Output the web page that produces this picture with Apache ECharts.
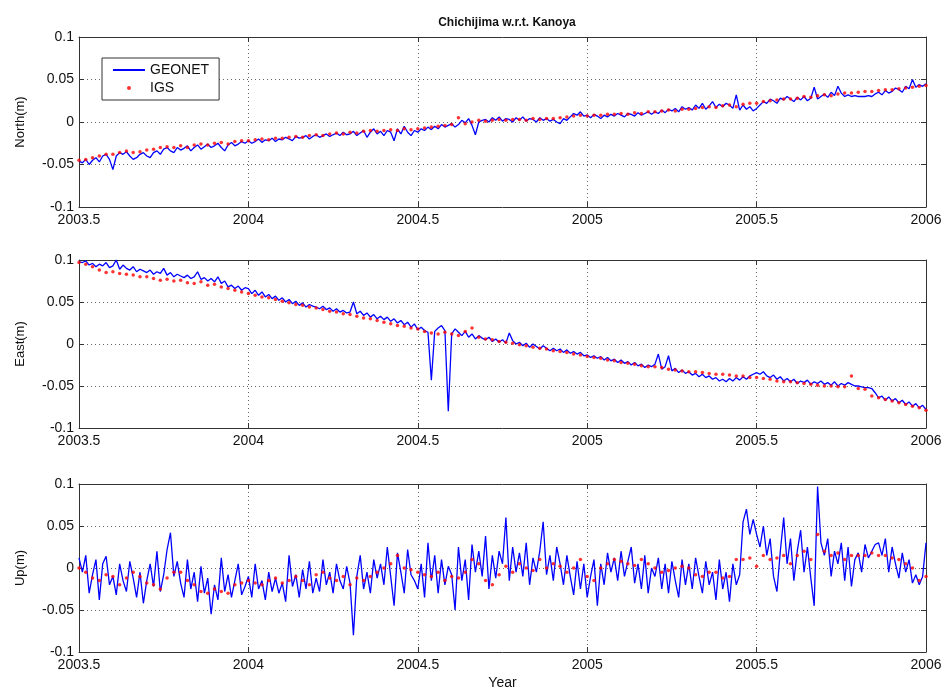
<!DOCTYPE html>
<html>
<head>
<meta charset="utf-8">
<title>Chichijima w.r.t. Kanoya</title>
<script src="https://cdn.jsdelivr.net/npm/echarts@6.0.0/dist/echarts.min.js"></script>
<style>
  html, body { margin: 0; padding: 0; background: #fff; }
  #chart { width: 945px; height: 691px; }
</style>
</head>
<body>
<div id="chart"></div>
<script>
// time axis: GEONET every 0.01 yr, IGS every 0.02 yr, starting 2003.5
const startYear = 2003.5
const geonetStep = 0.01
const igsStep = 0.02
const xTicks = [2003.5, 2004, 2004.5, 2005, 2005.5, 2006]
const yTicks = [-0.1, -0.05, 0, 0.05, 0.1]

// values, in mm
const northGeonet = [
  -46, -48, -44, -50, -45, -42, -47, -40, -38, -44,
  -56, -40, -36, -38, -35, -40, -44, -42, -38, -36,
  -40, -42, -36, -34, -38, -32, -30, -34, -36, -30,
  -33, -31, -28, -34, -30, -27, -32, -29, -26, -30,
  -28, -25, -30, -34, -27, -24, -28, -26, -23, -25,
  -22, -25, -23, -20, -24, -21, -22, -19, -23, -20,
  -21, -18, -20, -22, -17, -19, -18, -16, -20, -17,
  -15, -18, -16, -14, -17, -15, -13, -16, -12, -15,
  -14, -11, -16, -13, -10, -18, -12, -8, -14, -11,
  -16, -10, -12, -22, -8, -14, -5, -12, -16, -10,
  -12, -8, -10, -6, -9, -5, -8, -3, -6, -4,
  -2, -6, -3, 2, -1, 4, -4, -15, 0, 2,
  3, 0, 5, 2, 6, 1, 4, 3, 0, 5,
  2, 6, 1, 4, 3, 0, 5, 2, 4, 1,
  3, 0, -2, 4, 2, 6, 10, 8, 12, 7,
  8, 5, 9, 7, 4, 8, 6, 9, 7, 10,
  8, 6, 10, 9, 7, 11, 8, 10, 12, 9,
  12, 10, 14, 11, 15, 13, 16, 12, 18, 15,
  17, 14, 20, 16, 22, 15, 19, 24, 17, 21,
  18, 22, 20, 16, 32, 14, 20, 15, 18, 13,
  16, 20, 24, 22, 27, 25, 22, 28, 26, 30,
  27, 24, 29, 26, 30, 25, 28, 41, 27, 30,
  33, 29, 35, 31, 42, 34, 30, 32, 30, 31,
  30, 30, 30, 31, 30, 33, 35, 32, 37, 34,
  36, 40, 38, 35, 42, 39, 50, 41, 44, 42,
  45
]
const northIgs = [
  -45, -44, -42, -40, -38,
  -38, -36, -34, -36, -35,
  -33, -32, -30, -29, -30,
  -28, -30, -27, -26, -27,
  -25, -24, -26, -23, -22,
  -22, -21, -20, -21, -19,
  -19, -18, -17, -18, -16,
  -15, -16, -14, -13, -14,
  -12, -13, -11, -10, -11,
  -10, -9, -10, -8, -9,
  -8, -7, -6, -5, -4,
  -3, 5, -2, 0, 2,
  1, 2, 3, 2, 3,
  3, 2, 4, 3, 4,
  4, 5, 6, 7, 8,
  7, 8, 8, 9, 9,
  10, 9, 11, 10, 12,
  12, 13, 14, 13, 15,
  15, 16, 17, 18, 17,
  19, 20, 18, 21, 22,
  22, 24, 25, 26, 27,
  27, 28, 30, 29, 31,
  32, 31, 33, 34, 34,
  35, 36, 36, 37, 38,
  38, 39, 40, 41, 42,
  43
]

const eastGeonet = [
  98, 97, 99, 94, 96, 92, 95, 93, 97, 91,
  93, 100, 89, 94, 90, 88, 92, 86, 89, 87,
  85, 88, 83, 86, 84, 90, 82, 85, 80, 83,
  81, 79, 82, 78, 80, 86, 77, 79, 75, 78,
  74, 80, 72, 75, 68, 70, 66, 69, 64, 67,
  66, 60, 64, 58, 62, 56, 59, 54, 57, 52,
  55, 50, 53, 48, 51, 46, 49, 44, 47, 45,
  44, 42, 45, 41, 43, 39, 42, 38, 40, 37,
  38, 50, 36, 39, 34, 37, 32, 35, 30, 33,
  29, 32, 27, 30, 25, 28, 23, 26, 20, 24,
  17, 20, 16, 14, -43, 15, 19, 22, 16, -80,
  12, 18, 14, 10, 15, 8, 12, 6, 10, 7,
  5, 8, 3, 6, 2, 5, 1, 13, 4, 0,
  2, -2, 1, -4, 0, -3, -6, -2, -5, -8,
  -5, -8, -6, -10, -7, -11, -9, -12, -10, -14,
  -13, -16, -14, -17, -15, -19, -16, -20, -18, -22,
  -19, -23, -21, -25, -22, -26, -24, -28, -25, -27,
  -24, -12, -30, -27, -14, -32, -29, -34, -31, -35,
  -33, -37, -35, -39, -36, -40, -38, -42, -40, -44,
  -42, -45, -41, -44, -40, -43, -39, -42, -38, -36,
  -34, -36, -33, -38, -40, -37, -42, -39, -44, -41,
  -45, -42, -47, -44, -46, -43, -48, -45, -47, -44,
  -48, -46, -49, -45, -50, -47, -49, -46, -48, -50,
  -50, -51, -52, -52, -53, -58, -64, -62, -67, -63,
  -68, -65, -70, -67, -72, -69, -74, -71, -76, -73,
  -78
]
const eastIgs = [
  97, 95, 92, 88, 85,
  86, 84, 83, 82, 80,
  80, 78, 76, 77, 75,
  76, 73, 72, 74, 70,
  71, 68, 66, 64, 62,
  60, 58, 56, 55, 53,
  51, 49, 47, 46, 44,
  43, 41, 39, 38, 36,
  35, 33, 31, 30, 28,
  26, 24, 22, 21, 19,
  18, 15, 13, 12, 14,
  12, 10, 15, 19, 8,
  6, 5, 3, 2, 1,
  -1, -2, -4, -5, -6,
  -8, -9, -10, -12, -13,
  -15, -16, -17, -19, -20,
  -22, -23, -24, -26, -27,
  -27, -28, -30, -31, -32,
  -33, -33, -34, -35, -36,
  -36, -37, -38, -38, -40,
  -40, -41, -42, -44, -45,
  -45, -46, -47, -48, -49,
  -50, -50, -51, -51, -38,
  -53, -54, -62, -64, -66,
  -68, -70, -72, -74, -76,
  -79
]

const upGeonet = [
  12, -5, 15, -30, -8, 10, -38, 5, 14, -20,
  -10, -32, 5, -15, -28, 8, -12, -35, -5, -42,
  -15, 5, -22, 20, -28, -8, 22, 42, -10, 8,
  -18, -35, 10, -25, -5, -40, 2, -30, -12, -55,
  -20, -38, 12, -28, -8, -35, -15, 5, -32, -22,
  -10, -35, 5, -25, -15, -38, -5, -28, -12, -30,
  -18, -40, 15, -22, -8, -35, -2, -25, 8, -30,
  -12, -28, 10, -20, -5, -30, 5, -15, -25, 2,
  -18, -80, -10, 15, -25, -5, -30, 10, -12, 5,
  -20, 25, -10, -45, 18, -5, -30, 22, -8, -15,
  -25, 5, -35, 30, -15, 15, -30, 10, -20, 2,
  -8, -50, 25, -15, 10, -38, 28, -5, 20, -10,
  38, -25, 15, -12, 20, 5, 60, -15, 25, -5,
  18, -10, 30, -20, 12, -5, 20, 55, -8, 15,
  -15, 25, 5, -20, 15, -10, -32, 8, -25, 5,
  -35, -10, 10, -45, 5, -20, 18, -5, 12, -15,
  20, -10, 8, 25, -18, 5, -25, 15, -30, 0,
  -10, 12, -25, 5, -30, 8, -15, -35, 10, -20,
  5, -25, 12, -10, -30, 8, -20, -5, -38, 10,
  -25, -5, -40, 5, -20, -8, 55, 70, 40, 58,
  40, 25, 50, 15, 35, -10, -28, 20, 60, 5,
  35, -15, 20, 45, -5, 25, -12, -45, 97, 30,
  15, 35, -10, 20, 5, 30, -15, 25, -22, 10,
  18, -5, 28, 12, 20, 28, 30, 15, 35, -5,
  25, 5, -12, 18, -5, 10, -18, -8, -20, -10,
  30
]
const upIgs = [
  0, -5, -12, -15, -8,
  -10, -20, -12, -5, -10,
  -18, -20, -25, -12, -5,
  -5, -15, -20, -28, -30,
  -25, -28, -30, -20, -18,
  -15, -18, -20, -15, -12,
  -18, -15, -10, -15, -20,
  -8, -5, -12, -15, -10,
  -20, -12, -15, -10, -5,
  0, 5, 15, 0, -2,
  -5, -8, -10, -5, -15,
  -10, -12, -5, 10, 5,
  -15, -20, -8, 2, -5,
  5, 0, -3, 10, 0,
  5, 2, -5, 0, 10,
  -10, -15, 0, 5, 10,
  8, 5, 3, 10, 5,
  0, -5, -3, 0, 2,
  0, -8, -10, -5, -5,
  -12, -10, 10, 10, 12,
  2, 15, 10, 12, 15,
  5, 15, 20, 10, 40,
  20, 15, 18, 10, 15,
  15, 15, 18, 15, 15,
  12, 10, 5, 0, -15,
  -10
]

// pair each value with its year, mm -> m
const toSeries = (values, step) =>
  values.map((v, i) => [+(startYear + i * step).toFixed(3), v / 1000])

const panels = [
  { label: 'North(m)', geonet: northGeonet, igs: northIgs },
  { label: 'East(m)', geonet: eastGeonet, igs: eastIgs },
  { label: 'Up(m)', geonet: upGeonet, igs: upIgs }
]

// layout of the three axes boxes
const boxes = [
  { top: 37, height: 170 },
  { top: 260, height: 168 },
  { top: 484, height: 169 }
]

const font = 'Liberation Sans, Arial, Helvetica, sans-serif'
const frameColor = '#333'
const gridLine = { show: true, lineStyle: { color: '#666', type: [1, 3], width: 1 } }

const grid = []
const xAxis = []
const yAxis = []
const series = []

panels.forEach((p, k) => {
  grid.push({ left: 79, right: 19, top: boxes[k].top, height: boxes[k].height })

  // bottom axis with labels, top axis only for the frame and ticks
  xAxis.push({
    type: 'value', gridIndex: k, position: 'bottom',
    min: xTicks[0], max: xTicks[xTicks.length - 1], interval: 0.5,
    axisLine: { onZero: false, lineStyle: { color: frameColor, width: 1 } },
    axisTick: { inside: true, length: 5, lineStyle: { color: frameColor } },
    axisLabel: {
      color: '#111', fontSize: 14, fontFamily: font, margin: 6,
      formatter: (v) => String(+v.toFixed(1))
    },
    splitLine: gridLine,
    name: k === 2 ? 'Year' : '',
    nameLocation: 'middle', nameGap: 24,
    nameTextStyle: { color: '#111', fontSize: 14, fontFamily: font }
  })
  xAxis.push({
    type: 'value', gridIndex: k, position: 'top',
    min: xTicks[0], max: xTicks[xTicks.length - 1], interval: 0.5,
    axisLine: { onZero: false, lineStyle: { color: frameColor, width: 1 } },
    axisTick: { inside: true, length: 5, lineStyle: { color: frameColor } },
    axisLabel: { show: false },
    splitLine: { show: false }
  })

  yAxis.push({
    type: 'value', gridIndex: k, position: 'left',
    min: yTicks[0], max: yTicks[yTicks.length - 1], interval: 0.05,
    axisLine: { show: true, onZero: false, lineStyle: { color: frameColor, width: 1 } },
    axisTick: { show: true, inside: true, length: 5, lineStyle: { color: frameColor } },
    axisLabel: {
      color: '#111', fontSize: 14, fontFamily: font, margin: 5,
      formatter: (v) => String(+v.toFixed(2))
    },
    splitLine: gridLine,
    name: p.label,
    nameLocation: 'middle', nameGap: 52, nameRotate: 90,
    nameTextStyle: { color: '#111', fontSize: 13, fontFamily: font }
  })
  yAxis.push({
    type: 'value', gridIndex: k, position: 'right',
    min: yTicks[0], max: yTicks[yTicks.length - 1], interval: 0.05,
    axisLine: { show: true, onZero: false, lineStyle: { color: frameColor, width: 1 } },
    axisTick: { show: true, inside: true, length: 5, lineStyle: { color: frameColor } },
    axisLabel: { show: false },
    splitLine: { show: false }
  })

  series.push({
    name: 'GEONET', type: 'line',
    xAxisIndex: k * 2, yAxisIndex: k * 2,
    data: toSeries(p.geonet, geonetStep),
    showSymbol: false, symbol: 'none',
    lineStyle: { color: '#0000ff', width: 1.3 },
    itemStyle: { color: '#0000ff' },
    animation: false, z: 2
  })
  series.push({
    name: 'IGS', type: 'scatter',
    xAxisIndex: k * 2, yAxisIndex: k * 2,
    data: toSeries(p.igs, igsStep),
    symbol: 'circle', symbolSize: 3.5,
    itemStyle: { color: '#ff0000' },
    animation: false, z: 3
  })
})

const chart = echarts.init(document.getElementById('chart'))
chart.setOption({
  backgroundColor: '#fff',
  animation: false,
  title: {
    text: 'Chichijima w.r.t. Kanoya',
    left: 502, top: 12, textAlign: 'center',
    textStyle: { color: '#111', fontSize: 12, fontWeight: 'bold', fontFamily: font }
  },
  legend: {
    left: 102, top: 58,
    orient: 'vertical',
    backgroundColor: '#fff',
    borderColor: '#333', borderWidth: 1,
    padding: [5, 10, 5, 10],
    itemGap: 4,
    itemWidth: 32, itemHeight: 4,
    textStyle: { color: '#111', fontSize: 14, fontFamily: font },
    data: [
      { name: 'GEONET', itemStyle: { color: 'rgba(0,0,0,0)', borderWidth: 0 } },
      { name: 'IGS', icon: 'circle' }
    ]
  },
  grid,
  xAxis,
  yAxis,
  series
})
</script>
</body>
</html>
